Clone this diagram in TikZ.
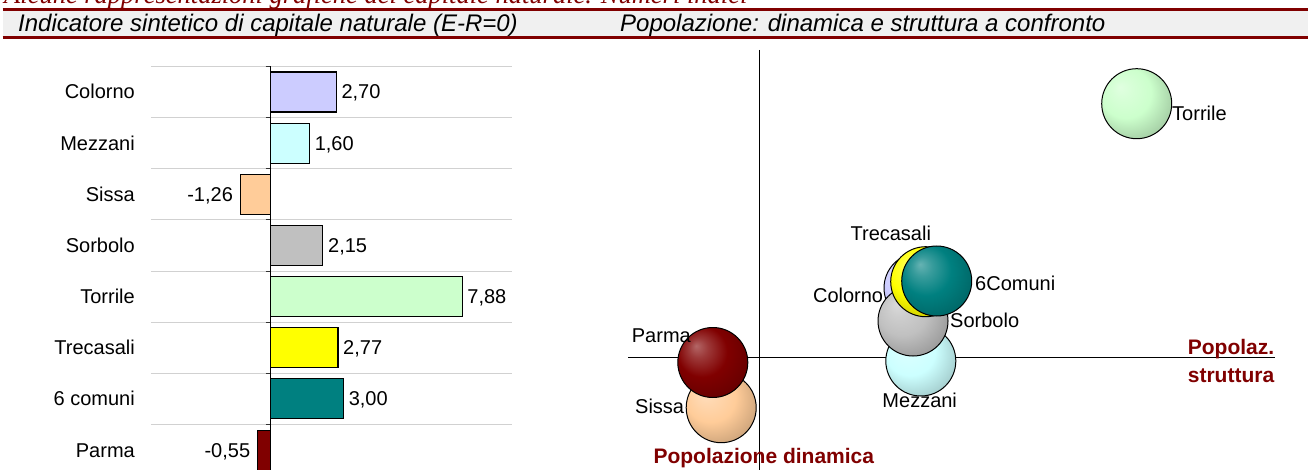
\documentclass[tikz,border=0pt]{standalone}
\usepackage{fontspec}
\setmainfont{Liberation Sans}
\newfontfamily\headserif{Liberation Serif}
\usetikzlibrary{positioning}
\definecolor{titlered}{RGB}{128,0,0}
\definecolor{lavbar}{HTML}{CCCCFF}
\definecolor{cyanbar}{HTML}{CCFFFF}
\definecolor{peachbar}{HTML}{FFCC99}
\definecolor{graybar}{HTML}{C0C0C0}
\definecolor{mintbar}{HTML}{CCFFCC}
\definecolor{yellowbar}{HTML}{FFFF00}
\definecolor{tealbar}{HTML}{008080}
\definecolor{maroonbar}{HTML}{800000}
\colorlet{bubcol}{black}
% shaded balls of the bubble chart, lighter towards the upper left
\pgfdeclareradialshading[bubcol]{bubshade}{\pgfpoint{-12bp}{12bp}}{%
  color(0bp)=(bubcol!60!white); color(7bp)=(bubcol!78!white);
  color(18bp)=(bubcol); color(32bp)=(bubcol!80!black); color(50bp)=(bubcol!58!black)}
\tikzset{
  x=1pt, y=-1pt, % one unit is one pixel, y grows downwards
  lbl/.style={font=\fontsize{20}{24}\selectfont, inner sep=0pt}, % black labels
  axlbl/.style={font=\fontsize{21}{24}\selectfont\bfseries, text=titlered, inner sep=0pt},
  ttl/.style={font=\fontsize{24}{28}\selectfont\itshape, inner sep=0pt, anchor=base west},
  barbox/.style={draw=black, line width=1.1pt},
  gridline/.style={draw=black!18, line width=0.9pt},
  bubcol/.code={\colorlet{bubcol}{#1}},
  bubble/.style={circle, draw=black, line width=1pt, minimum size=70pt, inner sep=0pt,
    shade, shading=bubshade, bubcol=#1},
}
\begin{document}
\begin{tikzpicture}
  \useasboundingbox (0,0) rectangle (1308,470);
  \clip (0,0) rectangle (1308,470);
  % header band
  \node[font=\fontsize{26.5}{30}\selectfont\headserif\itshape, text=titlered, inner sep=0pt,
    anchor=base west] (head) at (4,4) {Alcune rappresentazioni grafiche del capitale naturale. Numeri indici};
  \fill[black!6] (2.5,10.7) rectangle (1308,36.5);
  \draw[titlered, line width=2.4pt] (2.5,9.5) -- (1308,9.5);
  \draw[titlered, line width=2.4pt] (2.5,37.7) -- (1308,37.7);
  \node[ttl] (titleL) at (18,31.5) {Indicatore sintetico di capitale naturale (E-R=0)};
  \node[ttl] (titleR) at (620,31.5) {Popolazione: dinamica e struttura a confronto};

  % bar chart
  \foreach \k in {0,...,7} {
    \draw[gridline] (150.8,{66.5+51.15*\k}) -- (512.4,{66.5+51.15*\k});
    \draw[black!80, line width=0.9pt] (265.5,{66.5+51.15*\k}) -- (270.7,{66.5+51.15*\k});
  }
  \draw[line width=1pt] (270.7,66.5) -- (270.7,470);
  \foreach \name/\val/\txt/\col/\anc/\off [count=\k from 0] in {
      Colorno/2.70/{2,70}/lavbar/west/5, Mezzani/1.60/{1,60}/cyanbar/west/5,
      Sissa/-1.26/{-1,26}/peachbar/east/-7, Sorbolo/2.15/{2,15}/graybar/west/5,
      Torrile/7.88/{7,88}/mintbar/west/5, Trecasali/2.77/{2,77}/yellowbar/west/5,
      6 comuni/3.00/{3,00}/tealbar/west/5, Parma/-0.55/{-0,55}/maroonbar/east/-7} {
    \draw[barbox, fill=\col] (270.7,{72+51.15*\k}) rectangle ({270.7+24.3*\val},{112+51.15*\k});
    \node[lbl, anchor=base east] (cat\k) at (135,{99+51.15*\k}) {\name};
    \node[lbl, anchor=base \anc] (val\k) at ({270.7+24.3*\val+\off},{99+51.15*\k}) {\txt};
  }

  % bubble chart
  \draw[line width=1pt] (759,50) -- (759,470);
  \draw[line width=1pt] (628,357.5) -- (1275,357.5);
  \node[bubble=lavbar]    (colornoB)   at (919,288) {};
  \node[bubble=cyanbar]   (mezzaniB)   at (920.8,361) {};
  \node[bubble=peachbar]  (sissaB)     at (721.2,407.7) {};
  \node[bubble=graybar]   (sorboloB)   at (913,321) {};
  \node[bubble=mintbar]   (torrileB)   at (1136.7,103.7) {};
  \node[bubble=yellowbar] (trecasaliB) at (925.7,281.7) {};
  \node[bubble=tealbar]   (comuniB)    at (936.7,281) {};
  \node[bubble=maroonbar] (parmaB)     at (712.8,362.5) {};

  \node[lbl, anchor=base west] (torrileL)   at (1172,120.5) {Torrile};
  \node[lbl, anchor=base]      (trecasaliL) at (890.8,240.7) {Trecasali};
  \node[lbl, anchor=base east] (colornoL)   at (883.3,302.3) {Colorno};
  \node[lbl, anchor=base west] (comuniL)    at (975,290.7) {6Comuni};
  \node[lbl, anchor=base west] (sorboloL)   at (950,327.7) {Sorbolo};
  \node[lbl, anchor=base west] (parmaL)     at (631.7,342.5) {Parma};
  \node[lbl, anchor=base west] (sissaL)     at (635,413.7) {Sissa};
  \node[lbl, anchor=base]      (mezzaniL)   at (919.7,407.3) {Mezzani};

  \node[axlbl, anchor=base west] (dinamicaL) at (653.3,463.3) {Popolazione dinamica};
  \node[axlbl, anchor=base] (strutturaL) at (1231,354.3) {Popolaz.};
  \node[axlbl, anchor=base] (strutturaL2) at ([yshift=-28pt]strutturaL.base) {struttura};
\end{tikzpicture}
\end{document}
